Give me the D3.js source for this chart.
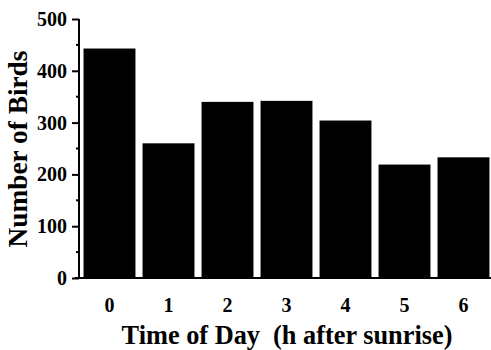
<!DOCTYPE html>
<html><head><meta charset="utf-8">
<script src="https://cdn.jsdelivr.net/npm/d3@7"></script>
<style>body{margin:0;background:#fff}svg{display:block}text{white-space:pre}</style>
</head><body>
<svg id="c" width="491" height="350"></svg>
<script>
const categories = ["0","1","2","3","4","5","6"];
const birds = [443, 260, 340, 342, 304, 219, 233];
const yTicks = [0,100,200,300,400,500];
const yMinorTicks = [50,150,250,350,450];
const xTitle = "Time of Day  (h after sunrise)";
const yTitle = "Number of Birds";

const svg = d3.select("#c");
const font = "'Liberation Serif', serif";
const x = d3.scaleBand().domain(categories).range([80,493]).paddingInner(0.12).paddingOuter(0.06);
const y = d3.scaleLinear().domain([0,500]).range([278,19]);

svg.append("g").selectAll("rect").data(birds).join("rect")
  .attr("x",(d,i)=>x(categories[i])).attr("width",x.bandwidth())
  .attr("y",d=>y(d)).attr("height",d=>y(0)-y(d)).attr("fill","#000");

// y axis
const ya = svg.append("g").attr("transform","translate(79,0)")
  .call(d3.axisLeft(y).tickValues(yTicks).tickSize(7).tickPadding(5).tickFormat(d3.format("d")));
ya.select(".domain").attr("d",`M0,${y(500)}V${y(0)}`).attr("stroke-width",2);
ya.selectAll(".tick line").attr("stroke-width",2);
ya.selectAll("text").attr("font-family",font).attr("font-weight","bold").attr("font-size",20).attr("fill","#000");
svg.append("g").attr("transform","translate(79,0)").selectAll("line").data(yMinorTicks).join("line")
  .attr("x1",-3).attr("x2",0).attr("y1",d=>y(d)).attr("y2",d=>y(d)).attr("stroke","#000").attr("stroke-width",2);

// x axis
const xa = svg.append("g").attr("transform",`translate(0,${y(0)})`)
  .call(d3.axisBottom(x).tickSize(0));
xa.select(".domain").attr("d","M75,0H491").attr("stroke-width",2);
xa.selectAll("text").attr("y",34).attr("dy",0).attr("font-family",font).attr("font-weight","bold").attr("font-size",20).attr("fill","#000");

function fit(sel, target){
  const w = sel.node().getComputedTextLength();
  const fs = +sel.attr("font-size");
  sel.attr("font-size", fs*target/w);
}
const xt = svg.append("text").attr("x",287).attr("y",344).attr("text-anchor","middle")
  .attr("font-family",font).attr("font-weight","bold").attr("font-size",20).text(xTitle);
fit(xt, 331);
const yt = svg.append("text").attr("transform","translate(27,149) rotate(-90)").attr("text-anchor","middle")
  .attr("font-family",font).attr("font-weight","bold").attr("font-size",20).text(yTitle);
fit(yt, 197);
</script>
</body></html>
